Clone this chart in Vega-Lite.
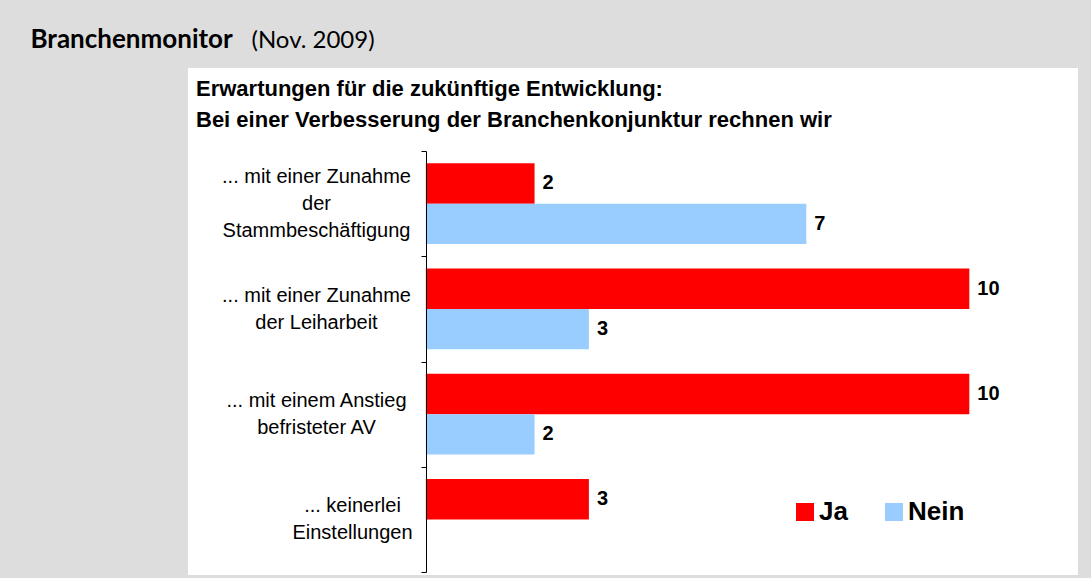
{
  "$schema": "https://vega.github.io/schema/vega-lite/v6.json",
  "width": 890,
  "height": 507,
  "autosize": {"type": "none"},
  "padding": {"left": 188, "top": 68, "right": 13, "bottom": 3},
  "background": "#dddddd",
  "view": {"fill": "white", "stroke": null},
  "title": {
    "text": ["Erwartungen für die zukünftige Entwicklung:", "Bei einer Verbesserung der Branchenkonjunktur rechnen wir"],
    "anchor": "start",
    "frame": "group",
    "font": "Liberation Sans",
    "fontSize": 22,
    "fontWeight": "bold",
    "color": "black",
    "lineHeight": 31,
    "dx": 8,
    "offset": -106
  },
  "data": {
    "values": [
      {"kategorie": "... mit einer Zunahme|der|Stammbeschäftigung", "antwort": "Ja", "anzahl": 2},
      {"kategorie": "... mit einer Zunahme|der|Stammbeschäftigung", "antwort": "Nein", "anzahl": 7},
      {"kategorie": "... mit einer Zunahme|der Leiharbeit", "antwort": "Ja", "anzahl": 10},
      {"kategorie": "... mit einer Zunahme|der Leiharbeit", "antwort": "Nein", "anzahl": 3},
      {"kategorie": "... mit einem Anstieg|befristeter AV", "antwort": "Ja", "anzahl": 10},
      {"kategorie": "... mit einem Anstieg|befristeter AV", "antwort": "Nein", "anzahl": 2},
      {"kategorie": "... keinerlei|Einstellungen", "antwort": "Ja", "anzahl": 3}
    ]
  },
  "encoding": {
    "y": {
      "field": "kategorie",
      "type": "nominal",
      "sort": null,
      "scale": {"range": [83, 504], "paddingInner": 0, "paddingOuter": 0},
      "axis": {
        "orient": "left",
        "offset": -238,
        "zindex": 1,
        "title": "Branchenmonitor",
        "titleAngle": 0,
        "titleAlign": "left",
        "titleBaseline": "alphabetic",
        "titleX": -396,
        "titleY": -21,
        "titleFont": "Lato",
        "titleFontSize": 26,
        "titleFontWeight": "bold",
        "titleColor": "black",
        "domainColor": "black",
        "domainWidth": 1,
        "tickColor": "black",
        "tickSize": 5,
        "tickWidth": 1,
        "tickBand": "extent",
        "grid": false,
        "labelExpr": "split('' + datum.label, '|')",
        "labelFont": "Liberation Sans",
        "labelFontSize": 20,
        "labelColor": "black",
        "labelAlign": "center",
        "labelBaseline": "middle",
        "labelLineHeight": 27,
        "labelLimit": 400,
        "labelOffset": {"condition": {"test": "length(split('' + datum.value, '|')) == 3", "value": -27}, "value": -13.5},
        "labelPadding": {"condition": {"test": "indexof('' + datum.value, 'keinerlei') >= 0", "value": 69}, "value": 105}
      }
    },
    "yOffset": {
      "field": "antwort",
      "type": "nominal",
      "scale": {"domain": ["Ja", "Nein"], "range": [0, 105.25], "paddingInner": 0, "paddingOuter": 0.3}
    },
    "x": {
      "field": "anzahl",
      "type": "quantitative",
      "scale": {"domain": [-4.377, 12], "nice": false},
      "axis": {
        "orient": "top",
        "labels": false,
        "ticks": false,
        "domain": false,
        "grid": false,
        "title": "(Nov. 2009)",
        "titleAngle": 0,
        "titleX": 63,
        "titleY": -21,
        "titleAlign": "left",
        "titleBaseline": "alphabetic",
        "titleFont": "Lato",
        "titleFontSize": 24,
        "titleFontWeight": "normal",
        "titleColor": "black"
      }
    }
  },
  "layer": [
    {
      "mark": {"type": "bar"},
      "encoding": {
        "color": {
          "field": "antwort",
          "type": "nominal",
          "scale": {"domain": ["Ja", "Nein"], "range": ["#ff0000", "#99ccff"]},
          "legend": {
            "title": null,
            "orient": "none",
            "legendX": 604,
            "legendY": 431,
            "direction": "horizontal",
            "symbolType": "square",
            "symbolSize": 324,
            "symbolStrokeWidth": 0,
            "symbolOpacity": 1,
            "labelFont": "Liberation Sans",
            "labelFontSize": 26,
            "labelFontWeight": "bold",
            "labelColor": "black",
            "labelOffset": 1,
            "columnPadding": 33,
            "padding": 0
          }
        }
      }
    },
    {
      "mark": {"type": "text", "align": "left", "baseline": "middle", "dx": 8, "font": "Liberation Sans", "fontSize": 20, "fontWeight": "bold", "color": "black"},
      "encoding": {"text": {"field": "anzahl", "type": "quantitative"}}
    }
  ]
}
